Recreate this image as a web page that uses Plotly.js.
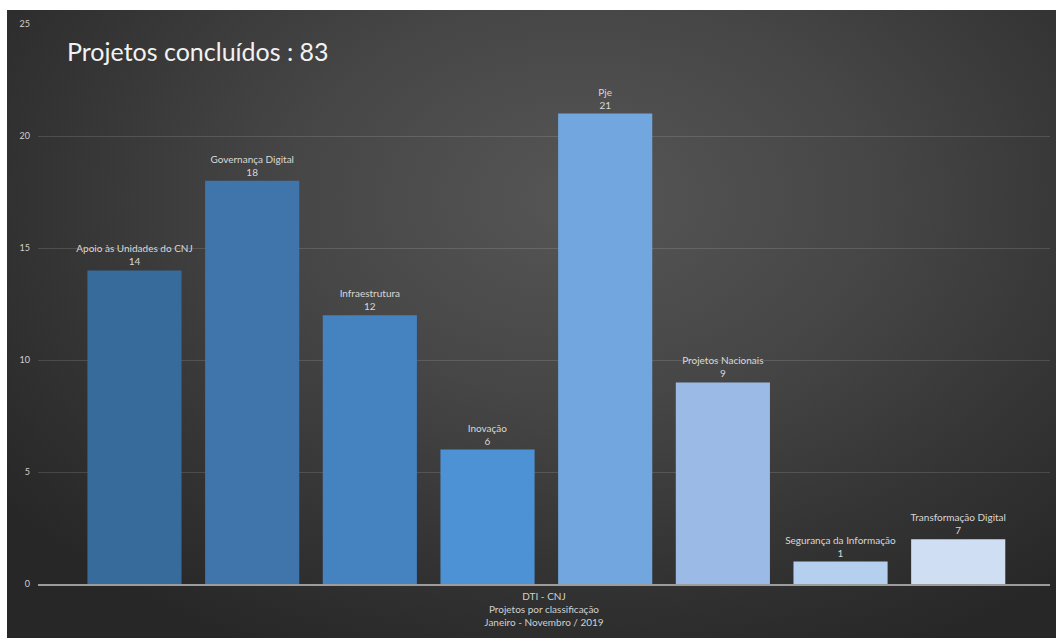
<!DOCTYPE html>
<html>
<head>
<meta charset="utf-8">
<script src="https://cdn.plot.ly/plotly-3.0.1.min.js"></script>
<style>
  html, body { margin: 0; padding: 0; background: #ffffff; width: 1056px; height: 638px; overflow: hidden; }
  #chart {
    position: absolute; left: 7px; top: 10px; width: 1049px; height: 628px;
    background: radial-gradient(ellipse 70% 80% at 55% 30%, #565656 0%, #464646 40%, #333333 75%, #272727 100%);
  }
</style>
</head>
<body>
<div id="chart"></div>
<script>
const categories = [
  "Apoio às Unidades do CNJ",
  "Governança Digital",
  "Infraestrutura",
  "Inovação",
  "Pje",
  "Projetos Nacionais",
  "Segurança da Informação",
  "Transformação Digital"
];
const values = [14, 18, 12, 6, 21, 9, 1, 2];
const dataLabels = ["14", "18", "12", "6", "21", "9", "1", "7"];
const barColors = ["#376b9b", "#3f75aa", "#4582c0", "#4d92d4", "#72a6de", "#9bbbe6", "#b5cfef", "#d0def3"];
const yTicks = [0, 5, 10, 15, 20, 25];
const chartTitle = "Projetos concluídos : 83";
const xTitle = "DTI - CNJ<br>Projetos por classificação<br>Janeiro - Novembro / 2019";

const labelText = categories.map((c, i) => c + "<br>" + dataLabels[i]);

const trace = {
  type: "bar",
  x: categories,
  y: values,
  text: labelText,
  textposition: "outside",
  constraintext: "none",
  textfont: { family: "Lato, 'Open Sans', sans-serif", size: 10, color: "#d8d8d8" },
  cliponaxis: false,
  marker: { color: barColors, line: { width: 0 } },
  width: 0.8,
  hoverinfo: "x+y"
};

const layout = {
  width: 1049,
  height: 628,
  paper_bgcolor: "rgba(0,0,0,0)",
  plot_bgcolor: "rgba(0,0,0,0)",
  margin: { l: 31, r: 6, t: 14, b: 54 },
  showlegend: false,
  title: {
    text: chartTitle,
    font: { family: "Lato, 'Open Sans', sans-serif", size: 25, color: "#f2f2f2" },
    xref: "container", yref: "container",
    x: 60 / 1049, xanchor: "left",
    y: 1 - 42 / 628, yanchor: "middle"
  },
  xaxis: {
    type: "category",
    range: [-0.82, 7.78],
    showticklabels: false,
    ticks: "",
    showgrid: false,
    showline: true,
    linecolor: "#9c9c9c",
    linewidth: 2,
    zeroline: false,
    title: {
      text: xTitle,
      font: { family: "Lato, 'Open Sans', sans-serif", size: 10, color: "#d0d0d0" },
      standoff: 8
    }
  },
  yaxis: {
    range: [0, 25],
    tickvals: yTicks,
    ticks: "",
    ticklabelstandoff: 7,
    tickfont: { family: "Lato, 'Open Sans', sans-serif", size: 9, color: "#d0d0d0" },
    showgrid: true,
    gridcolor: "rgba(255,255,255,0.13)",
    gridwidth: 1,
    zeroline: false,
    showline: false
  },
  font: { family: "Lato, 'Open Sans', sans-serif", color: "#d0d0d0" }
};

Plotly.newPlot("chart", [trace], layout, { displayModeBar: false, responsive: false });
</script>
</body>
</html>
